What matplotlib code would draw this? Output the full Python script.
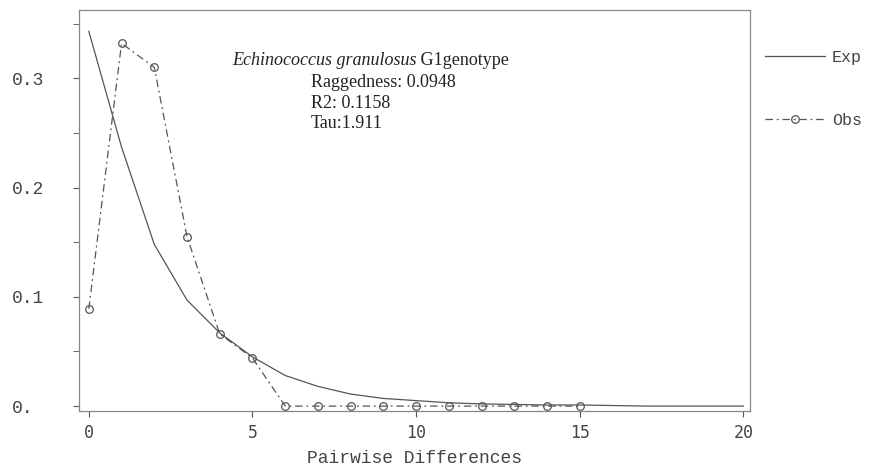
import matplotlib.pyplot as plt
from matplotlib.ticker import MultipleLocator

# mismatch distribution, expected vs observed
diffs_exp = [0, 1, 2, 3, 4, 5, 6, 7, 8, 9, 10, 11, 12, 13, 14, 15, 16, 17, 18, 19, 20]
freq_exp = [0.343, 0.237, 0.148, 0.097, 0.067, 0.045, 0.028, 0.018, 0.011, 0.007,
            0.005, 0.003, 0.002, 0.0015, 0.001, 0.001, 0.0005, 0.0, 0.0, 0.0, 0.0]

diffs_obs = [0, 1, 2, 3, 4, 5, 6, 7, 8, 9, 10, 11, 12, 13, 14, 15]
freq_obs = [0.089, 0.332, 0.310, 0.155, 0.066, 0.044, 0, 0, 0, 0, 0, 0, 0, 0, 0, 0]

y_ticks = [0.0, 0.1, 0.2, 0.3]
y_labels = ["0.", "0.1", "0.2", "0.3"]
x_ticks = [0, 5, 10, 15, 20]

title_italic = "Echinococcus granulosus"
title_rest = " G1genotype"
stats_lines = ["Raggedness: 0.0948", "R2: 0.1158", "Tau:1.911"]

grey = "#555555"
mono = "Liberation Mono"
serif = "Liberation Serif"


def main():
    fig = plt.figure(figsize=(8.69, 4.70), dpi=100)
    ax = fig.add_axes([79 / 869, 1 - 411 / 470, (750 - 79) / 869, (411 - 10) / 470])

    exp_line, = ax.plot(diffs_exp, freq_exp, color=grey, linewidth=0.9, label="Exp")
    obs_line, = ax.plot(diffs_obs, freq_obs, color=grey, linewidth=0.9,
                        linestyle=(0, (6, 3, 1.5, 3)), marker="o", markersize=5.5,
                        markerfacecolor="none", markeredgecolor=grey,
                        markeredgewidth=0.9, label="Obs")

    ax.set_xlim(-0.3, 20.2)
    ax.set_ylim(-0.0045, 0.3625)

    ax.set_xticks(x_ticks)
    ax.set_xticklabels([str(t) for t in x_ticks], fontfamily="DejaVu Sans Mono",
                       fontsize=12, color="#444444")
    ax.set_yticks(y_ticks)
    ax.set_yticklabels(y_labels, fontfamily=mono, fontsize=13, color="#444444")
    ax.yaxis.set_minor_locator(MultipleLocator(0.05))
    ax.tick_params(axis="y", which="both", length=4, color=grey, pad=44)
    ax.tick_params(axis="x", length=4, color=grey, pad=5)
    for lab in ax.get_yticklabels():
        lab.set_horizontalalignment("left")

    for sp in ax.spines.values():
        sp.set_color("#888888")
        sp.set_linewidth(0.9)

    ax.set_xlabel("Pairwise Differences", fontfamily=mono, fontsize=13,
                  color="#444444", labelpad=6)

    t1 = fig.text(232 / 869, 1 - 65 / 470, title_italic, fontfamily=serif,
                  fontstyle="italic", fontsize=13, color="#222222", va="baseline")
    ax.annotate(title_rest, xy=(1, 0), xycoords=t1, va="bottom",
                fontfamily=serif, fontsize=13, color="#222222")
    for i, line in enumerate(stats_lines):
        fig.text(311 / 869, 1 - (87 + 20.5 * i) / 470, line, fontfamily=serif,
                 fontsize=13, color="#222222", va="baseline")

    fig.legend(handles=[exp_line, obs_line], loc="upper left",
               bbox_to_anchor=(765 / 869, 1 - 50 / 470), frameon=False,
               prop={"family": mono, "size": 12}, handlelength=3.6,
               handletextpad=0.4, labelspacing=2.9, borderpad=0,
               borderaxespad=0, labelcolor="#444444")

    fig.savefig("out.png", dpi=100)


if __name__ == "__main__":
    main()
